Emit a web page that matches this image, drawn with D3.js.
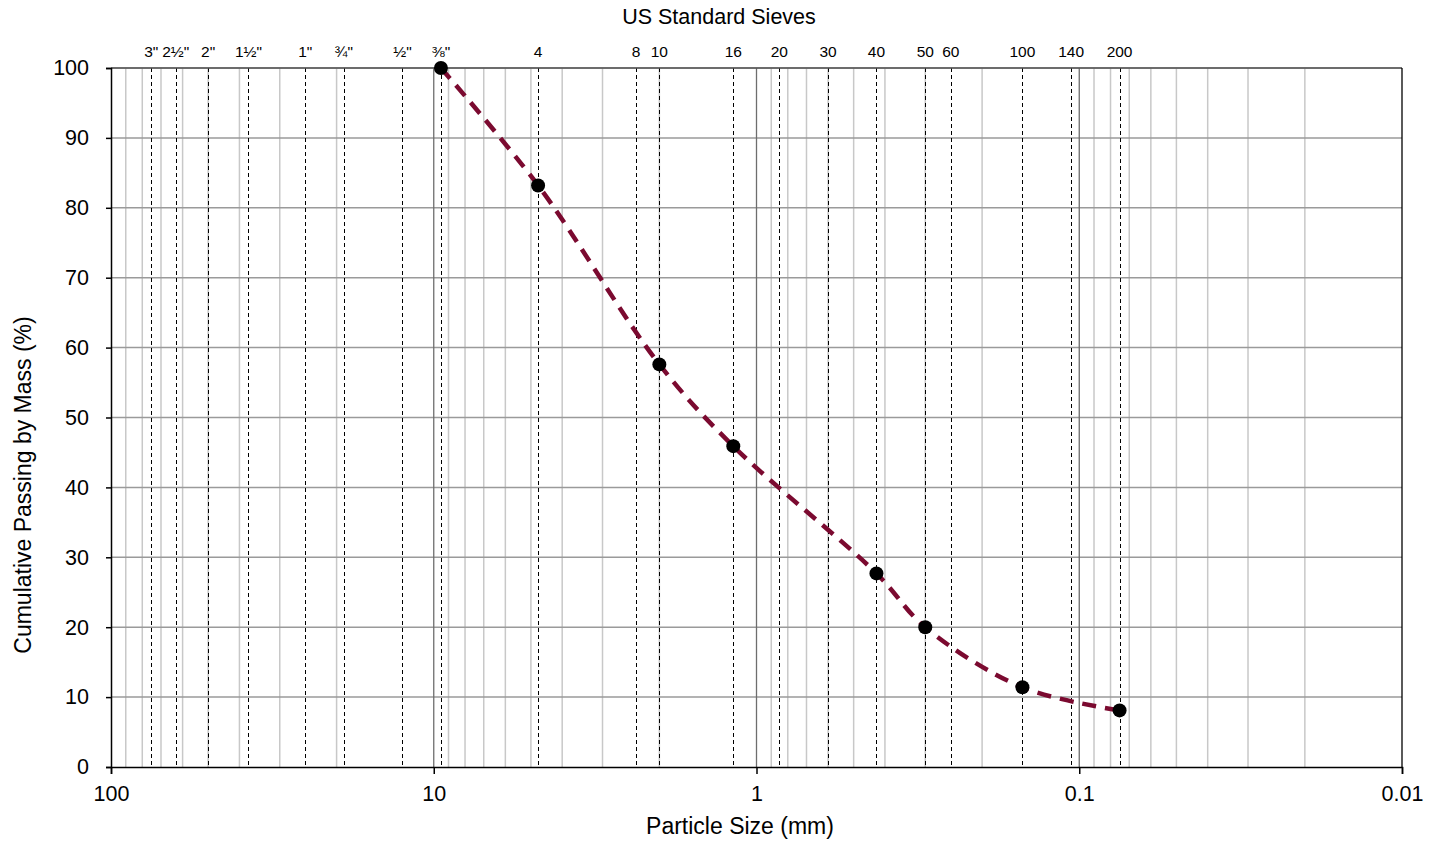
<!DOCTYPE html>
<html lang="en">
  <head>
    <meta charset="UTF-8" />
    <title>Gradation</title>
    <script src="https://cdn.jsdelivr.net/npm/d3@7"></script>
    <style>
      body { margin: 0; background: #fff; }
      text { font-family: "Liberation Sans", Arial, sans-serif; fill: #000; }
    </style>
  </head>
  <body>
    <svg id="chart" width="1437" height="842"></svg>
    <script>
      // sieve sizes (mm) and their labels
      const sieveSizes = [75, 63, 50, 37.5, 25, 19, 12.5, 9.5, 4.75, 2.36, 2.0, 1.18, 0.85, 0.6, 0.425, 0.3, 0.25, 0.15, 0.106, 0.075];
      const sieveLabels = ['3"', '2½"', '2"', '1½"', '1"', '¾"', '½"', '⅜"', "4", "8", "10", "16", "20", "30", "40", "50", "60", "100", "140", "200"];

      // test results
      const sizes = [9.5, 4.75, 2.0, 1.18, 0.425, 0.3, 0.15, 0.075];
      const passing = [100, 83.2, 57.6, 45.9, 27.7, 20.0, 11.4, 8.1];

      const xTicks = [100, 10, 1, 0.1, 0.01];
      const xTickLabels = ["100", "10", "1", "0.1", "0.01"];
      const yTicks = [0, 10, 20, 30, 40, 50, 60, 70, 80, 90, 100];

      const svg = d3.select("#chart");
      const pLeft = 111, pRight = 1402, pTop = 68, pBottom = 767;
      const font = "Liberation Sans, Arial, sans-serif";

      const x = d3.scaleLog().domain([100, 0.01]).range([pLeft, pRight]);
      const y = d3.scaleLinear().domain([0, 100]).range([pBottom, pTop]);

      // minor vertical grid
      let minors = [];
      for (const dec of [10, 1, 0.1, 0.01]) {
        for (let k = 2; k <= 9; k++) minors.push(dec * k);
      }
      svg.append("g").selectAll("line").data(minors).enter().append("line")
        .attr("x1", d => x(d)).attr("x2", d => x(d))
        .attr("y1", pTop).attr("y2", pBottom)
        .attr("stroke", "#c8c8c8").attr("stroke-width", 1.5);

      // horizontal grid
      svg.append("g").selectAll("line").data(yTicks.slice(1)).enter().append("line")
        .attr("x1", pLeft).attr("x2", pRight)
        .attr("y1", d => y(d)).attr("y2", d => y(d))
        .attr("stroke", "#9a9a9a").attr("stroke-width", 1.5);

      // major vertical grid
      svg.append("g").selectAll("line").data(xTicks.slice(1, 4)).enter().append("line")
        .attr("x1", d => x(d)).attr("x2", d => x(d))
        .attr("y1", pTop).attr("y2", pBottom)
        .attr("stroke", "#6e6e6e").attr("stroke-width", 1.3);

      // sieve dashed lines
      svg.append("g").selectAll("line").data(sieveSizes).enter().append("line")
        .attr("x1", d => Math.round(x(d)) + 0.5).attr("x2", d => Math.round(x(d)) + 0.5)
        .attr("y1", pTop).attr("y2", pBottom)
        .attr("stroke", "#000").attr("stroke-width", 1)
        .attr("stroke-dasharray", "4,3");

      // sieve labels
      svg.append("g").selectAll("text").data(sieveSizes).enter().append("text")
        .attr("x", d => x(d)).attr("y", 57)
        .attr("text-anchor", "middle").attr("font-size", 15.5)
        .text((d, i) => sieveLabels[i]);

      svg.append("text").attr("x", 719).attr("y", 24)
        .attr("text-anchor", "middle").attr("font-size", 21.5)
        .text("US Standard Sieves");

      // frame
      svg.append("line").attr("x1", pLeft).attr("x2", pRight).attr("y1", pTop).attr("y2", pTop)
        .attr("stroke", "#555").attr("stroke-width", 1.5);
      svg.append("line").attr("x1", pRight).attr("x2", pRight).attr("y1", pTop).attr("y2", pBottom)
        .attr("stroke", "#000").attr("stroke-width", 1.3);

      // axes
      const yAxis = d3.axisLeft(y).tickValues(yTicks).tickSize(5).tickPadding(17);
      const gy = svg.append("g").attr("transform", `translate(${pLeft},0)`).call(yAxis);
      gy.select(".domain").attr("stroke-width", 1.5);
      gy.selectAll("line").attr("stroke-width", 1.5);
      gy.selectAll("text").attr("font-size", 21.5).attr("font-family", font);

      const xAxis = d3.axisBottom(x).tickValues(xTicks).tickSize(7).tickPadding(12)
        .tickFormat((d, i) => xTickLabels[i]);
      const gx = svg.append("g").attr("transform", `translate(0,${pBottom})`).call(xAxis);
      gx.select(".domain").attr("stroke-width", 1.5);
      gx.selectAll("line").attr("stroke-width", 1.5);
      gx.selectAll("text").attr("font-size", 21.5).attr("font-family", font);

      svg.append("text").attr("x", 740).attr("y", 834)
        .attr("text-anchor", "middle").attr("font-size", 23)
        .text("Particle Size (mm)");
      svg.append("text")
        .attr("transform", `translate(31,485) rotate(-90)`)
        .attr("text-anchor", "middle").attr("font-size", 23)
        .text("Cumulative Passing by Mass (%)");

      // data line
      const pts = sizes.map((s, i) => [s, passing[i]]);
      const line = d3.line().x(d => x(d[0])).y(d => y(d[1])).curve(d3.curveCatmullRom.alpha(0.5));
      svg.append("path").datum(pts).attr("d", line)
        .attr("fill", "none").attr("stroke", "#7b0a30").attr("stroke-width", 4.5)
        .attr("stroke-dasharray", "14,9");

      svg.append("g").selectAll("circle").data(pts).enter().append("circle")
        .attr("cx", d => x(d[0])).attr("cy", d => y(d[1])).attr("r", 7)
        .attr("fill", "#000");
    </script>
  </body>
</html>
